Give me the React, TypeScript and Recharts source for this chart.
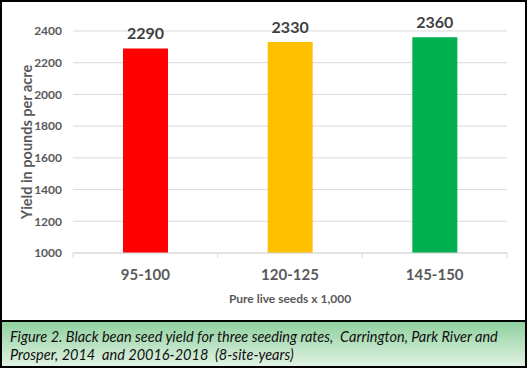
import React from "react";
import { BarChart, Bar, XAxis, YAxis, CartesianGrid, LabelList, Cell } from "recharts";

const categories = ["95-100", "120-125", "145-150"];
const yieldValues = [2290, 2330, 2360];
const barColors = ["#ff0000", "#ffc000", "#00b050"];
const yTicks = [1000, 1200, 1400, 1600, 1800, 2000, 2200, 2400];

const data = categories.map((rate, i) => ({ rate, yield: yieldValues[i] }));

const FONT = "Lato, 'Liberation Sans', sans-serif";
const CHART_W = 529;
const CHART_H = 321;
const MARGIN = { top: 31, right: 22, left: 0, bottom: 0 };
const Y_AXIS_W = 73;
const PLOT_W = CHART_W - MARGIN.right - Y_AXIS_W;

// category tick: label plus Excel-style marks at category boundaries
const CategoryTick = (props: any) => {
  const { x, y, payload, index } = props;
  const half = PLOT_W / categories.length / 2;
  const top = y - 8;
  return (
    <g>
      <line x1={x - half} x2={x - half} y1={top} y2={top + 5} stroke="#d9d9d9" />
      {index === categories.length - 1 && (
        <line x1={x + half} x2={x + half} y1={top} y2={top + 5} stroke="#d9d9d9" />
      )}
      <text
        x={x}
        y={y + 19}
        textAnchor="middle"
        fill="#595959"
        fontSize={15}
        fontWeight="bold"
        fontFamily={FONT}
      >
        {payload.value}
      </text>
    </g>
  );
};

const App: React.FC = () => {
  return (
    <div
      style={{
        position: "absolute",
        left: 0,
        top: 0,
        width: 529,
        height: 369,
        background: "#fff",
        fontFamily: FONT,
      }}
    >
      <BarChart width={CHART_W} height={CHART_H} data={data} margin={MARGIN}>
        <CartesianGrid vertical={false} stroke="#d9d9d9" />
        <XAxis
          dataKey="rate"
          axisLine={{ stroke: "#d9d9d9" }}
          tickLine={false}
          height={68}
          tick={<CategoryTick />}
          interval={0}
          label={{
            value: "Pure live seeds x 1,000",
            position: "insideBottom",
            offset: 18,
            style: { fill: "#595959", fontSize: 12, fontWeight: "bold", fontFamily: FONT },
          }}
        />
        <YAxis
          width={Y_AXIS_W}
          domain={[1000, 2400]}
          ticks={yTicks}
          interval={0}
          axisLine={false}
          tickLine={false}
          tickMargin={5}
          tick={{ fill: "#595959", fontSize: 12, fontWeight: "bold", fontFamily: FONT }}
          label={{
            value: "Yield in pounds per acre",
            angle: -90,
            position: "insideLeft",
            offset: 27,
            style: {
              textAnchor: "middle",
              fill: "#595959",
              fontSize: 14.5,
              fontWeight: "bold",
              fontFamily: FONT,
            },
          }}
        />
        <Bar dataKey="yield" barSize={45} isAnimationActive={false}>
          {data.map((d, i) => (
            <Cell key={d.rate} fill={barColors[i]} />
          ))}
          <LabelList
            dataKey="yield"
            position="top"
            offset={9}
            style={{ fill: "#404040", fontSize: 16, fontWeight: "bold", fontFamily: FONT }}
          />
        </Bar>
      </BarChart>
      <div
        style={{
          position: "absolute",
          left: 0,
          top: 320,
          width: 527,
          height: 48,
          boxSizing: "border-box",
          borderTop: "2px solid #000",
          background: "linear-gradient(#8fd19e, #e4f3e6)",
          padding: "6px 0 0 10px",
          fontStyle: "italic",
          fontSize: 14.5,
          lineHeight: "18px",
          color: "#111",
        }}
      >
        Figure 2. Black bean seed yield for three seeding rates, &nbsp;Carrington, Park River and
        <br />
        Prosper, 2014 &nbsp;and 20016-2018 &nbsp;(8-site-years)
      </div>
      <div
        style={{
          position: "absolute",
          left: 0,
          top: 0,
          width: 527,
          height: 368,
          boxSizing: "border-box",
          border: "2px solid #000",
          pointerEvents: "none",
        }}
      />
    </div>
  );
};

export default App;
